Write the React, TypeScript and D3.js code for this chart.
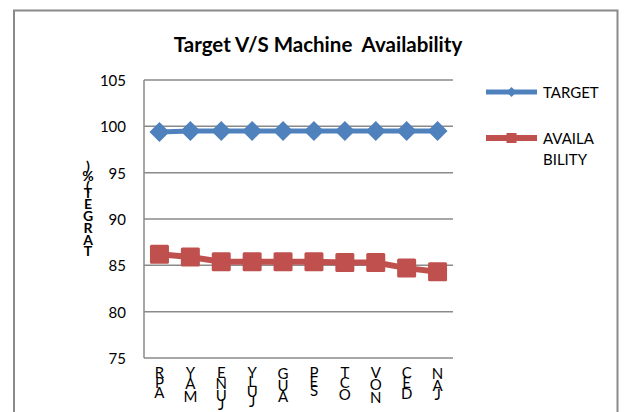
import React from "react";
import * as d3 from "d3";

const categories = ["APR", "MAY", "JUNE", "JULY", "AUG", "SEP", "OCT", "NOV", "DEC", "JAN"];
const target = [99.4, 99.5, 99.5, 99.5, 99.5, 99.5, 99.5, 99.5, 99.5, 99.5];
const availability = [86.2, 85.9, 85.4, 85.4, 85.4, 85.4, 85.3, 85.3, 84.7, 84.3];
const yTicks = [75, 80, 85, 90, 95, 100, 105];
const title = "Target V/S Machine  Availability";
const yTitle = "TARGET(%)";
const seriesNames = ["TARGET", "AVAILABILITY"];

const FONT = "Lato, 'Open Sans', sans-serif";
const BLUE = "#4F81BD";
const RED = "#C0504D";
const GRID = "#8A8A8A";

let ctx: CanvasRenderingContext2D | null = null;
function charW(c: string, font: string): number {
  if (!ctx) {
    const cv = document.createElement("canvas");
    ctx = cv.getContext("2d");
  }
  if (!ctx) return 8;
  ctx.font = font;
  return ctx.measureText(c).width;
}

function Stacked({ text, x, y0, size, bold, k }: { text: string; x: number; y0: number; size: number; bold?: boolean; k: number }) {
  const font = `${bold ? "bold " : ""}${size}px Lato`;
  const chars = text.split("").reverse();
  let cum = 0;
  const items = chars.map((c, i) => {
    const w = charW(c, font) * k;
    const cy = y0 + cum + w / 2;
    cum += w;
    return (
      <text key={i} x={x} y={cy} textAnchor="middle" dominantBaseline="central" fontSize={size} fontWeight={bold ? "bold" : "normal"} fontFamily={FONT} fill="#000">
        {c}
      </text>
    );
  });
  return <g>{items}</g>;
}

export default function App() {
  const W = 624, H = 412;
  const left = 144, right = 453, top = 80, bottom = 358;
  const x = d3.scaleBand<string>().domain(categories).range([left, right]);
  const y = d3.scaleLinear().domain([75, 105]).range([bottom, top]);
  const cx = (c: string) => (x(c) as number) + x.bandwidth() / 2;
  const line = d3.line<number>().x((_, i) => cx(categories[i])).y((v) => y(v));
  const diamond = (px: number, py: number, r: number) => `M${px},${py - r}L${px + r},${py}L${px},${py + r}L${px - r},${py}Z`;

  return (
    <svg width={W} height={H} style={{ position: "absolute", left: 0, top: 0 }} xmlns="http://www.w3.org/2000/svg">
      <rect x={0} y={0} width={W} height={H} fill="#fff" />
      {/* outer frame */}
      <path d={`M14,${H + 5}V10.5H617.5V${H + 5}`} fill="none" stroke={GRID} strokeWidth={2} />
      <text x={318} y={52} textAnchor="middle" fontFamily={FONT} fontWeight="bold" fontSize={20.5} fill="#000" style={{ whiteSpace: "pre" }}>
        {title}
      </text>
      {/* gridlines */}
      {yTicks.map((t) => (
        <g key={t}>
          <line x1={left} x2={right} y1={y(t)} y2={y(t)} stroke={GRID} strokeWidth={1.5} />
          <text x={126} y={y(t)} textAnchor="end" dominantBaseline="central" fontFamily={FONT} fontSize={15} fill="#000">
            {t}
          </text>
        </g>
      ))}
      <line x1={left} x2={left} y1={top} y2={bottom} stroke={GRID} strokeWidth={1.5} />
      {/* y title */}
      <Stacked text={yTitle} x={88} y0={163} size={14} bold k={1.28} />
      {/* category labels */}
      {categories.map((c) => (
        <Stacked key={c} text={c} x={cx(c)} y0={367} size={15} k={1.08} />
      ))}
      {/* series */}
      <path d={line(target) || ""} fill="none" stroke={BLUE} strokeWidth={5} />
      {target.map((v, i) => (
        <path key={i} d={diamond(cx(categories[i]), y(v), 10)} fill={BLUE} />
      ))}
      <path d={line(availability) || ""} fill="none" stroke={RED} strokeWidth={6} />
      {availability.map((v, i) => (
        <rect key={i} x={cx(categories[i]) - 9.5} y={y(v) - 9.5} width={19} height={19} rx={1.5} fill={RED} />
      ))}
      {/* legend */}
      <line x1={486} x2={537} y1={92} y2={92} stroke={BLUE} strokeWidth={5} />
      <path d={diamond(511.5, 92, 5)} fill={BLUE} />
      <text x={543} y={98} fontFamily={FONT} fontSize={15} fill="#000">{seriesNames[0]}</text>
      <line x1={486} x2={537} y1={138} y2={138} stroke={RED} strokeWidth={6} />
      <rect x={506.5} y={133} width={10} height={10} fill={RED} />
      <text x={543} y={144} fontFamily={FONT} fontSize={15} fill="#000">{seriesNames[1].slice(0, 6)}</text>
      <text x={543} y={165} fontFamily={FONT} fontSize={15} fill="#000">{seriesNames[1].slice(6)}</text>
    </svg>
  );
}
